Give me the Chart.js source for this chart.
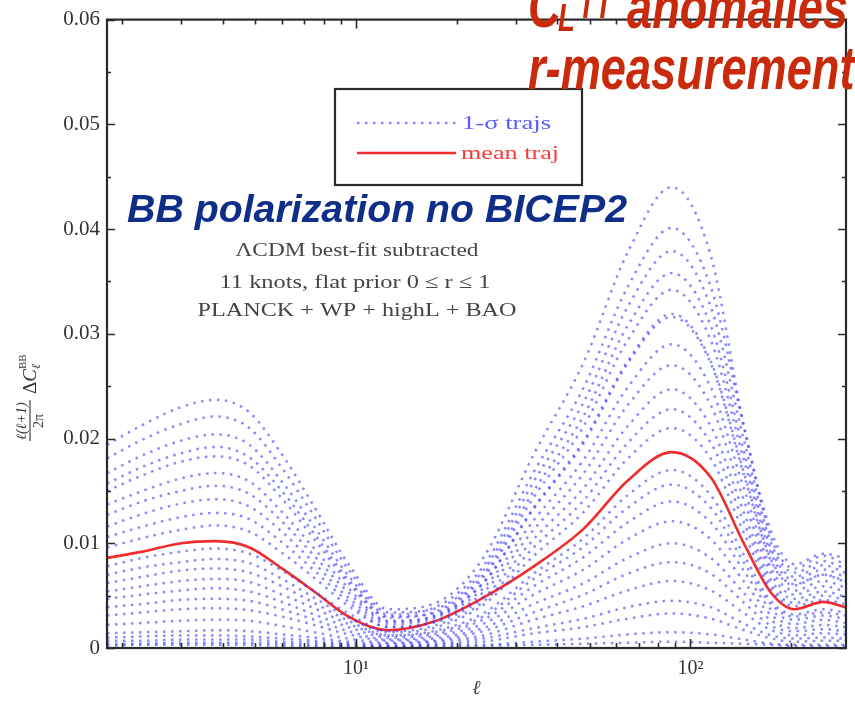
<!DOCTYPE html>
<html>
<head>
<meta charset="utf-8">
<script src="https://cdn.jsdelivr.net/npm/chart.js@4.4.1/dist/chart.umd.min.js"></script>
<style>
  html, body { margin: 0; padding: 0; background: #fff; }
  #wrap { position: relative; width: 855px; height: 705px; }
  canvas { display: block; }
</style>
</head>
<body>
<div id="wrap"><canvas id="c"></canvas></div>
<script>
// multipole grid shared by every trajectory
const ELL = [1.8, 2.3, 3, 3.8, 4.8, 6, 7.5, 9.5, 12.5, 17, 24, 34, 48, 65, 88, 115, 145, 175, 205, 250, 290];

// mean trajectory
const MEAN_TRAJ = [0.0086, 0.0092, 0.0100, 0.0102, 0.0096, 0.0076, 0.0054, 0.0030, 0.0017, 0.0025, 0.0048, 0.0078, 0.0114, 0.0160, 0.0187, 0.0163, 0.0099, 0.0052, 0.0037, 0.0044, 0.0039];

// 1-sigma trajectories
const TRAJ_01 = [0.0194, 0.0213, 0.0230, 0.0237, 0.0225, 0.0185, 0.0135, 0.0080, 0.0037, 0.0042, 0.0086, 0.0185, 0.0273, 0.0378, 0.0440, 0.0375, 0.0210, 0.0110, 0.0080, 0.0090, 0.0086];
const TRAJ_02 = [0.0181, 0.0199, 0.0214, 0.0221, 0.0210, 0.0172, 0.0126, 0.0075, 0.0034, 0.0037, 0.0074, 0.0159, 0.0235, 0.0326, 0.0379, 0.0326, 0.0197, 0.0099, 0.0072, 0.0083, 0.0076];
const TRAJ_03 = [0.0167, 0.0184, 0.0198, 0.0204, 0.0194, 0.0159, 0.0116, 0.0069, 0.0032, 0.0038, 0.0078, 0.0168, 0.0249, 0.0345, 0.0401, 0.0345, 0.0209, 0.0104, 0.0076, 0.0088, 0.0080];
const TRAJ_04 = [0.0157, 0.0173, 0.0186, 0.0192, 0.0182, 0.0150, 0.0109, 0.0065, 0.0030, 0.0033, 0.0067, 0.0144, 0.0212, 0.0294, 0.0342, 0.0294, 0.0178, 0.0089, 0.0065, 0.0075, 0.0068];
const TRAJ_05 = [0.0150, 0.0165, 0.0178, 0.0183, 0.0174, 0.0143, 0.0104, 0.0062, 0.0029, 0.0034, 0.0070, 0.0150, 0.0222, 0.0308, 0.0358, 0.0308, 0.0186, 0.0093, 0.0068, 0.0079, 0.0072];
const TRAJ_06 = [0.0137, 0.0150, 0.0162, 0.0167, 0.0159, 0.0130, 0.0095, 0.0057, 0.0026, 0.0030, 0.0062, 0.0133, 0.0196, 0.0272, 0.0316, 0.0272, 0.0164, 0.0082, 0.0060, 0.0070, 0.0063];
const TRAJ_07 = [0.0127, 0.0140, 0.0150, 0.0155, 0.0147, 0.0121, 0.0088, 0.0053, 0.0025, 0.0030, 0.0062, 0.0134, 0.0198, 0.0274, 0.0319, 0.0274, 0.0166, 0.0083, 0.0061, 0.0070, 0.0064];
const TRAJ_08 = [0.0116, 0.0128, 0.0138, 0.0142, 0.0135, 0.0111, 0.0081, 0.0048, 0.0023, 0.0028, 0.0057, 0.0122, 0.0180, 0.0249, 0.0290, 0.0249, 0.0151, 0.0075, 0.0055, 0.0064, 0.0058];
const TRAJ_09 = [0.0106, 0.0116, 0.0125, 0.0129, 0.0123, 0.0101, 0.0074, 0.0044, 0.0020, 0.0024, 0.0048, 0.0104, 0.0153, 0.0212, 0.0247, 0.0212, 0.0128, 0.0064, 0.0047, 0.0054, 0.0049];
const TRAJ_10 = [0.0096, 0.0105, 0.0113, 0.0117, 0.0111, 0.0091, 0.0067, 0.0040, 0.0020, 0.0025, 0.0053, 0.0113, 0.0167, 0.0232, 0.0270, 0.0232, 0.0140, 0.0070, 0.0051, 0.0059, 0.0054];
const TRAJ_11 = [0.0078, 0.0086, 0.0092, 0.0095, 0.0090, 0.0074, 0.0054, 0.0033, 0.0016, 0.0021, 0.0044, 0.0096, 0.0141, 0.0196, 0.0228, 0.0196, 0.0119, 0.0059, 0.0043, 0.0050, 0.0046];
const TRAJ_12 = [0.0070, 0.0077, 0.0082, 0.0085, 0.0081, 0.0066, 0.0048, 0.0029, 0.0015, 0.0019, 0.0041, 0.0088, 0.0130, 0.0181, 0.0210, 0.0181, 0.0109, 0.0055, 0.0040, 0.0046, 0.0042];
const TRAJ_13 = [0.0062, 0.0068, 0.0074, 0.0076, 0.0072, 0.0059, 0.0043, 0.0026, 0.0012, 0.0015, 0.0030, 0.0066, 0.0097, 0.0134, 0.0156, 0.0134, 0.0081, 0.0041, 0.0030, 0.0034, 0.0031];
const TRAJ_14 = [0.0054, 0.0059, 0.0064, 0.0066, 0.0063, 0.0051, 0.0038, 0.0023, 0.0012, 0.0016, 0.0033, 0.0071, 0.0105, 0.0146, 0.0170, 0.0146, 0.0088, 0.0044, 0.0032, 0.0037, 0.0034];
const TRAJ_15 = [0.0047, 0.0051, 0.0055, 0.0057, 0.0054, 0.0044, 0.0032, 0.0020, 0.0010, 0.0013, 0.0027, 0.0059, 0.0087, 0.0120, 0.0140, 0.0120, 0.0073, 0.0036, 0.0027, 0.0031, 0.0028];
const TRAJ_16 = [0.0039, 0.0042, 0.0046, 0.0047, 0.0045, 0.0037, 0.0027, 0.0016, 0.0008, 0.0011, 0.0023, 0.0051, 0.0075, 0.0104, 0.0121, 0.0104, 0.0063, 0.0031, 0.0023, 0.0027, 0.0024];
const TRAJ_17 = [0.0031, 0.0034, 0.0037, 0.0038, 0.0036, 0.0030, 0.0022, 0.0013, 0.0007, 0.0009, 0.0019, 0.0042, 0.0062, 0.0086, 0.0100, 0.0086, 0.0052, 0.0026, 0.0019, 0.0022, 0.0020];
const TRAJ_18 = [0.0022, 0.0024, 0.0026, 0.0027, 0.0026, 0.0021, 0.0015, 0.0009, 0.0005, 0.0007, 0.0016, 0.0034, 0.0051, 0.0071, 0.0082, 0.0071, 0.0043, 0.0021, 0.0016, 0.0018, 0.0016];
const TRAJ_19 = [0.0014, 0.0015, 0.0016, 0.0017, 0.0016, 0.0013, 0.0010, 0.0006, 0.0004, 0.0006, 0.0012, 0.0027, 0.0040, 0.0055, 0.0064, 0.0055, 0.0033, 0.0017, 0.0012, 0.0014, 0.0013];
const TRAJ_20 = [0.0007, 0.0007, 0.0008, 0.0008, 0.0008, 0.0006, 0.0005, 0.0003, 0.0002, 0.0004, 0.0009, 0.0019, 0.0028, 0.0039, 0.0045, 0.0039, 0.0023, 0.0012, 0.0009, 0.0010, 0.0009];
const TRAJ_21 = [0.0002, 0.0003, 0.0003, 0.0003, 0.0003, 0.0002, 0.0002, 0.0001, 0.0001, 0.0003, 0.0006, 0.0014, 0.0020, 0.0028, 0.0033, 0.0028, 0.0017, 0.0009, 0.0006, 0.0007, 0.0007];
const TRAJ_22 = [0.0010, 0.0011, 0.0012, 0.0012, 0.0011, 0.0009, 0.0007, 0.0004, 0.0002, 0.0002, 0.0003, 0.0006, 0.0009, 0.0013, 0.0015, 0.0013, 0.0008, 0.0004, 0.0003, 0.0003, 0.0003];
const TRAJ_23 = [0.0004, 0.0004, 0.0005, 0.0005, 0.0005, 0.0004, 0.0003, 0.0002, 0.0001, 0.0001, 0.0002, 0.0003, 0.0004, 0.0005, 0.0006, 0.0005, 0.0004, 0.0003, 0.0002, 0.0002, 0.0002];

const SIGMA_TRAJS = [TRAJ_01, TRAJ_02, TRAJ_03, TRAJ_04, TRAJ_05, TRAJ_06, TRAJ_07, TRAJ_08, TRAJ_09, TRAJ_10, TRAJ_11, TRAJ_12,
                     TRAJ_13, TRAJ_14, TRAJ_15, TRAJ_16, TRAJ_17, TRAJ_18, TRAJ_19, TRAJ_20, TRAJ_21, TRAJ_22, TRAJ_23];

// axis ticks
const Y_MAJOR = [0, 0.01, 0.02, 0.03, 0.04, 0.05, 0.06];
const Y_MINOR = [0.005, 0.015, 0.025, 0.035, 0.045, 0.055];
const X_MAJOR = [10, 100];
const X_MINOR = [2, 3, 4, 5, 6, 7, 8, 9, 20, 30, 40, 50, 60, 70, 80, 90, 200];
const X_TICK_LABELS = { 10: '10¹', 100: '10²' };

// text
const LEGEND_LABELS = ['1-σ trajs', 'mean traj'];
const NOTE_LINES = ['ΛCDM best-fit subtracted', '11 knots, flat prior 0 ≤ r ≤ 1', 'PLANCK + WP + highL + BAO'];
const BANNER_BLUE = 'BB polarization no BICEP2';
const BANNER_RED_2 = 'r-measurement';

const BLUE_DOT = 'rgba(60,60,255,0.6)';
const MEAN_RED = '#f22c2c';
const SERIF = '"Liberation Serif", "DejaVu Serif", serif';
const SANS = '"Liberation Sans", Arial, sans-serif';

const toPoints = vals => ELL.map((l, i) => ({ x: l, y: vals[i] }));

const datasets = SIGMA_TRAJS.map((vals, i) => ({
  label: i === 0 ? LEGEND_LABELS[0] : '',
  data: toPoints(vals),
  borderColor: BLUE_DOT,
  borderWidth: 2.5,
  borderDash: [2.5, 5.5],
  pointRadius: 0,
  fill: false,
  cubicInterpolationMode: 'monotone'
}));
datasets.push({
  label: LEGEND_LABELS[1],
  data: toPoints(MEAN_TRAJ),
  borderColor: MEAN_RED,
  borderWidth: 2.6,
  pointRadius: 0,
  fill: false,
  cubicInterpolationMode: 'monotone'
});

// draw text squeezed or stretched horizontally to a given width
function fitText(ctx, text, x, y, width, align) {
  const w = ctx.measureText(text).width;
  const sx = width / w;
  ctx.save();
  ctx.translate(x, y);
  ctx.scale(sx, 1);
  ctx.textAlign = align || 'left';
  ctx.fillText(text, 0, 0);
  ctx.restore();
  return sx;
}

function scaledText(ctx, text, x, y, sx) {
  ctx.save();
  ctx.translate(x, y);
  ctx.scale(sx, 1);
  ctx.textAlign = 'left';
  ctx.fillText(text, 0, 0);
  ctx.restore();
  return ctx.measureText(text).width * sx;
}

const decor = {
  id: 'decor',
  beforeDraw(chart) {
    const ctx = chart.ctx;
    ctx.save();
    ctx.fillStyle = '#fff';
    ctx.fillRect(0, 0, chart.width, chart.height);
    ctx.restore();
  },
  afterDraw(chart) {
    const ctx = chart.ctx;
    const { left, right, top, bottom } = chart.chartArea;
    const xs = chart.scales.x, ys = chart.scales.y;
    ctx.save();

    // inward tick marks on all four sides
    ctx.strokeStyle = '#2a2a2a';
    ctx.lineWidth = 1.6;
    ctx.beginPath();
    const xt = (v, len) => {
      const px = Math.round(xs.getPixelForValue(v)) + 0.5;
      ctx.moveTo(px, bottom); ctx.lineTo(px, bottom - len);
      ctx.moveTo(px, top); ctx.lineTo(px, top + len);
    };
    X_MAJOR.forEach(v => xt(v, 9));
    X_MINOR.forEach(v => xt(v, 5));
    const yt = (v, len) => {
      const py = Math.round(ys.getPixelForValue(v)) + 0.5;
      ctx.moveTo(left, py); ctx.lineTo(left + len, py);
      ctx.moveTo(right, py); ctx.lineTo(right - len, py);
    };
    Y_MAJOR.forEach(v => yt(v, 8));
    Y_MINOR.forEach(v => yt(v, 4));
    ctx.stroke();

    // frame
    ctx.lineWidth = 2.2;
    ctx.strokeStyle = '#2a2a2a';
    ctx.strokeRect(left, top, right - left, bottom - top);

    // y-axis label: l(l+1)/2pi  Delta C_l^BB, rotated
    ctx.save();
    ctx.translate(30, 444);
    ctx.rotate(-Math.PI / 2);
    ctx.fillStyle = '#333';
    ctx.strokeStyle = '#333';
    ctx.textBaseline = 'alphabetic';
    ctx.font = 'italic 14px ' + SERIF;
    ctx.textAlign = 'center';
    ctx.fillText('ℓ(ℓ+1)', 23, -4);
    ctx.font = '14px ' + SERIF;
    ctx.fillText('2π', 23, 13);
    ctx.lineWidth = 1.1;
    ctx.beginPath(); ctx.moveTo(3, 0); ctx.lineTo(44, 0); ctx.stroke();
    ctx.textAlign = 'left';
    ctx.font = '19px ' + SERIF;
    ctx.fillText('Δ', 50, 6);
    let cx = 50 + ctx.measureText('Δ').width;
    ctx.font = 'italic 19px ' + SERIF;
    ctx.fillText('C', cx, 6);
    cx += ctx.measureText('C').width;
    ctx.font = 'italic 12px ' + SERIF;
    ctx.fillText('ℓ', cx, 10);
    ctx.font = '11px ' + SERIF;
    ctx.fillText('BB', cx, -4);
    ctx.restore();

    // legend
    ctx.fillStyle = '#fff';
    ctx.fillRect(335, 89, 247, 96);
    ctx.lineWidth = 2.2;
    ctx.strokeStyle = '#2a2a2a';
    ctx.strokeRect(335, 89, 247, 96);
    ctx.lineWidth = 2.5;
    ctx.strokeStyle = BLUE_DOT;
    ctx.setLineDash([2.5, 5.5]);
    ctx.beginPath(); ctx.moveTo(357, 123); ctx.lineTo(456, 123); ctx.stroke();
    ctx.setLineDash([]);
    ctx.strokeStyle = MEAN_RED;
    ctx.lineWidth = 2.4;
    ctx.beginPath(); ctx.moveTo(357, 153); ctx.lineTo(456, 153); ctx.stroke();
    ctx.font = '18px ' + SERIF;
    ctx.fillStyle = '#5a5aff';
    fitText(ctx, LEGEND_LABELS[0], 462, 129, 89);
    ctx.fillStyle = '#ff3a3a';
    fitText(ctx, LEGEND_LABELS[1], 461, 159, 98);

    // annotation lines
    ctx.fillStyle = '#444';
    ctx.font = '19px ' + SERIF;
    fitText(ctx, NOTE_LINES[0], 357, 256, 243, 'center');
    fitText(ctx, NOTE_LINES[1], 355, 288, 271, 'center');
    fitText(ctx, NOTE_LINES[2], 357, 316, 319, 'center');

    // blue banner
    ctx.fillStyle = '#0f2e88';
    ctx.font = 'bold italic 38px ' + SANS;
    fitText(ctx, BANNER_BLUE, 127, 222, 500);

    // red banner (two lines, first one runs off the top)
    ctx.fillStyle = '#c92a0c';
    ctx.font = 'bold italic 62px ' + SANS;
    const sx = 221 / ctx.measureText('anomalies').width;
    scaledText(ctx, 'anomalies', 627, 28, sx);
    scaledText(ctx, BANNER_RED_2, 528, 89, sx);
    scaledText(ctx, 'C', 528, 27, sx);
    ctx.font = 'bold italic 38px ' + SANS;
    scaledText(ctx, 'L', 558, 31, sx);
    scaledText(ctx, 'TT', 578, 18, sx);

    ctx.restore();
  }
};

new Chart(document.getElementById('c'), {
  type: 'line',
  data: { datasets },
  options: {
    responsive: true,
    maintainAspectRatio: false,
    animation: false,
    events: [],
    layout: { padding: { top: 16, right: 7, left: 0, bottom: 0 } },
    plugins: { legend: { display: false }, tooltip: { enabled: false } },
    scales: {
      x: {
        type: 'logarithmic',
        min: 1.8,
        max: 292,
        grid: { display: false, drawTicks: false },
        border: { display: false },
        afterFit: s => { s.height = 57; },
        ticks: {
          autoSkip: false,
          maxRotation: 0,
          padding: 9,
          color: '#333',
          font: { family: SERIF, size: 20 },
          callback: v => X_TICK_LABELS[v] || ''
        },
        title: {
          display: true,
          text: 'ℓ',
          color: '#444',
          font: { family: SERIF, size: 20, style: 'italic' },
          padding: { top: 0, bottom: 4 }
        }
      },
      y: {
        min: 0,
        max: 0.06,
        grid: { display: false, drawTicks: false },
        border: { display: false },
        afterFit: s => { s.width = 107; },
        afterBuildTicks: s => { s.ticks = Y_MAJOR.map(v => ({ value: v })); },
        ticks: {
          padding: 7,
          color: '#333',
          font: { family: SERIF, size: 21 },
          callback: v => v === 0 ? '0' : v.toFixed(2)
        }
      }
    }
  },
  plugins: [decor]
});
</script>
</body>
</html>
